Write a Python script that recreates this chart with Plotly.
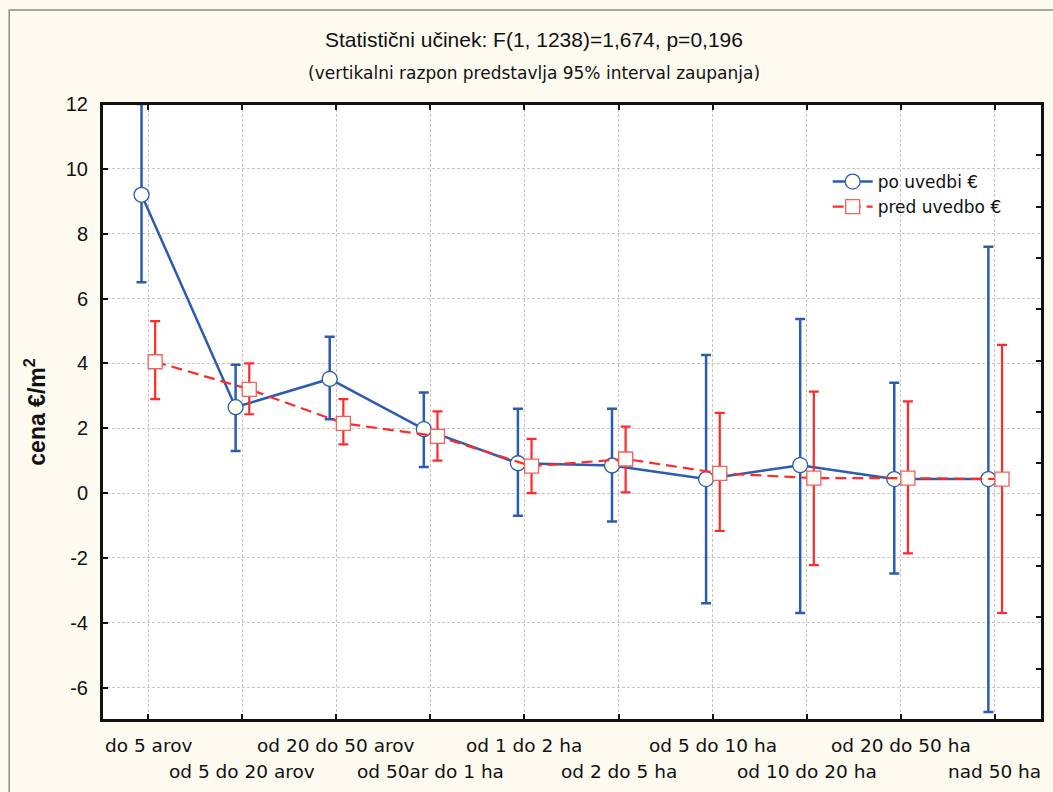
import plotly.graph_objects as go

categories = ["do 5 arov", "od 5 do 20 arov", "od 20 do 50 arov", "od 50ar do 1 ha",
              "od 1 do 2 ha", "od 2 do 5 ha", "od 5 do 10 ha", "od 10 do 20 ha",
              "od 20 do 50 ha", "nad 50 ha"]

po_mean = [9.2, 2.65, 3.52, 1.97, 0.92, 0.85, 0.43, 0.86, 0.43, 0.43]
po_low = [6.5, 1.3, 2.28, 0.8, -0.7, -0.88, -3.4, -3.7, -2.48, -6.75]
po_high = [12.0, 3.96, 4.82, 3.1, 2.6, 2.6, 4.26, 5.37, 3.4, 7.6]

pred_mean = [4.05, 3.2, 2.15, 1.75, 0.83, 1.05, 0.61, 0.46, 0.46, 0.43]
pred_low = [2.9, 2.43, 1.5, 1.0, 0.0, 0.02, -1.17, -2.22, -1.86, -3.7]
pred_high = [5.3, 4.0, 2.9, 2.52, 1.67, 2.05, 2.47, 3.13, 2.83, 4.57]

y_ticks = [-6, -4, -2, 0, 2, 4, 6, 8, 10, 12]

title1 = "Statistični učinek: F(1, 1238)=1,674, p=0,196"
title2 = "(vertikalni razpon predstavlja 95% interval zaupanja)"

BLUE = "#2B5CB0"
RED = "#FF2B2B"
BG = "#FDFBEF"
DARK = "#111111"

idx = list(range(len(categories)))
x_po = [i - 0.07 for i in idx]
x_pred = [i + 0.075 for i in idx]

fig = go.Figure()
fig.add_trace(go.Scatter(
    x=x_po, y=po_mean, mode="lines+markers", name="po uvedbi €",
    line=dict(color=BLUE, width=2.5),
    marker=dict(symbol="circle", size=15, color="#FFFFF6", line=dict(color=BLUE, width=1.3)),
    error_y=dict(type="data", symmetric=False,
                 array=[h - m for h, m in zip(po_high, po_mean)],
                 arrayminus=[m - l for m, l in zip(po_mean, po_low)],
                 color=BLUE, thickness=2.5, width=5),
))
fig.add_trace(go.Scatter(
    x=x_pred, y=pred_mean, mode="lines+markers", name="pred uvedbo €",
    line=dict(color=RED, width=2.2, dash="11px,6px"),
    marker=dict(symbol="square", size=14, color="#FFFFFA", line=dict(color="#F26060", width=1.3)),
    error_y=dict(type="data", symmetric=False,
                 array=[h - m for h, m in zip(pred_high, pred_mean)],
                 arrayminus=[m - l for m, l in zip(pred_mean, pred_low)],
                 color=RED, thickness=2.2, width=5),
))

# invisible trace to hold the right-side axis (its own tick divisions)
fig.add_trace(go.Scatter(x=[0], y=[0], yaxis="y2", mode="markers",
                         marker=dict(opacity=0), showlegend=False, hoverinfo="skip"))

annotations = [
    dict(text=title1, x=0.5, xref="paper", y=1.104, yref="paper", showarrow=False,
         xanchor="center", yanchor="middle", xshift=-38,
         font=dict(family="Liberation Sans, Arial", size=21, color=DARK)),
    dict(text=title2, x=0.5, xref="paper", y=1.050, yref="paper", showarrow=False,
         xanchor="center", yanchor="middle", xshift=-38,
         font=dict(family="DejaVu Sans", size=17, color=DARK)),
]
for i, c in enumerate(categories):
    annotations.append(dict(
        text=c, x=i, xref="x", y=(-0.0406 if i % 2 == 0 else -0.0844), yref="paper",
        showarrow=False, xanchor="center", yanchor="middle",
        font=dict(family="DejaVu Sans", size=18.5, color=DARK)))

fig.update_layout(
    width=1053, height=792,
    paper_bgcolor=BG, plot_bgcolor="white",
    margin=dict(l=102, r=9, t=104, b=72),
    showlegend=True,
    legend=dict(x=0.772, y=0.9026, xanchor="left", yanchor="top",
                bgcolor="rgba(0,0,0,0)", font=dict(family="DejaVu Sans", size=17, color=DARK),
                tracegroupgap=0, itemwidth=40),
    annotations=annotations,
    shapes=[
        dict(type="rect", xref="paper", yref="paper", x0=-0.0987, x1=1.2, y0=-0.3, y1=1.1526,
             line=dict(color="#8A8A8A", width=1.5), fillcolor="rgba(0,0,0,0)", layer="below"),
        dict(type="rect", xref="paper", yref="paper", x0=0, x1=1, y0=0, y1=1,
             line=dict(color=DARK, width=2), fillcolor="rgba(0,0,0,0)", layer="above"),
    ],
    xaxis=dict(range=[-0.49, 9.5], tickvals=idx, showticklabels=False,
               ticks="inside", ticklen=6, tickwidth=1.5, tickcolor=DARK,
               showline=True, linecolor=DARK, linewidth=2, mirror="ticks",
               showgrid=True, gridcolor="#C6C6C6", griddash="3px,2px", gridwidth=1,
               zeroline=False),
    yaxis=dict(range=[-7, 12], tickvals=y_ticks, ticktext=[str(v) for v in y_ticks],
               ticks="inside", ticklen=6, tickwidth=1.5, tickcolor=DARK,
               showline=True, linecolor=DARK, linewidth=2, mirror=True,
               showgrid=True, gridcolor="#C6C6C6", griddash="3px,2px", gridwidth=1,
               zeroline=False, ticklabelstandoff=8,
               tickfont=dict(family="Liberation Sans, Arial", size=20, color=DARK),
               title=dict(text="<b>cena €/m<sup>2</sup></b>", standoff=14,
                          font=dict(family="Liberation Sans, Arial", size=23, color=DARK))),
    yaxis2=dict(overlaying="y", side="right", range=[0, 12], dtick=1,
                ticks="inside", ticklen=6, tickwidth=1.5, tickcolor=DARK,
                showticklabels=False, showgrid=False, zeroline=False,
                showline=True, linecolor=DARK, linewidth=2),
)

fig.write_html("out.html", config={"displayModeBar": False},
               post_script=("document.documentElement.style.overflow='hidden';"
                            "document.body.style.margin='0';document.body.style.overflow='hidden';"))
